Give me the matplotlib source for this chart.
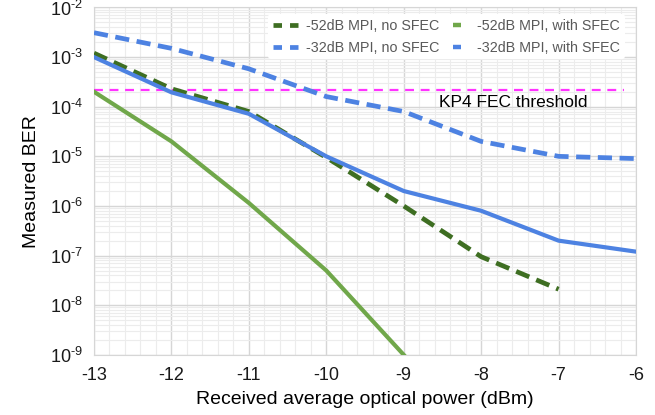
import matplotlib
matplotlib.use("Agg")
import matplotlib.pyplot as plt
from matplotlib.lines import Line2D
from matplotlib.ticker import FixedLocator, LogLocator, FuncFormatter, NullFormatter
import numpy as np

plt.rcParams["font.family"] = ["Liberation Sans", "DejaVu Sans"]
plt.rcParams["mathtext.fontset"] = "custom"
plt.rcParams["mathtext.rm"] = "Liberation Sans"
plt.rcParams["mathtext.it"] = "Liberation Sans:italic"
plt.rcParams["mathtext.bf"] = "Liberation Sans:bold"
plt.rcParams["axes.unicode_minus"] = False

# received power (dBm)
power = [-13, -12, -11, -10, -9, -8, -7, -6]

# measured BER per case
ber_52_no_sfec = [1.2e-3, 2.3e-4, 8e-5, 9.5e-6, 1e-6, 9.5e-8, 2.1e-8]
ber_52_sfec = [2e-4, 2e-5, 1.15e-6, 5e-8, 1e-9]
ber_32_no_sfec = [3.1e-3, 1.5e-3, 5.8e-4, 1.6e-4, 8e-5, 2e-5, 1.0e-5, 9e-6]
ber_32_sfec = [1e-3, 1.95e-4, 7.2e-5, 1e-5, 2e-6, 8e-7, 2e-7, 1.2e-7]

labels = ["-52dB MPI, no SFEC", "-32dB MPI, no SFEC",
          "-52dB MPI, with SFEC", "-32dB MPI, with SFEC"]

kp4_threshold = 2.2e-4
threshold_span = [-13, -6.15]

dark_green = "#3e6e22"
light_green = "#70a74a"
blue = "#4d82e2"

fig = plt.figure(figsize=(6.55, 4.15), dpi=100)
ax = fig.add_axes([0.1435, 0.145, 0.8275, 0.837])

dash = (0, (3.0, 1.6))
ax.plot(power[:len(ber_52_no_sfec)], ber_52_no_sfec, color=dark_green, lw=3.4,
        linestyle=dash, zorder=4)
ax.plot(power[:len(ber_32_no_sfec)], ber_32_no_sfec, color=blue, lw=3.4,
        linestyle=dash, zorder=4)
ax.plot(power[:len(ber_52_sfec)], ber_52_sfec, color=light_green, lw=3.0, zorder=4)
ax.plot(power[:len(ber_32_sfec)], ber_32_sfec, color=blue, lw=3.0, zorder=4)

ax.plot(threshold_span, [kp4_threshold, kp4_threshold], color="#ff33ff", lw=1.6,
        linestyle=(0, (4, 3)), zorder=3)
ax.text(-8.55, 1.2e-4, "KP4 FEC threshold", fontsize=12.5, color="black",
        va="center", ha="left")

ax.set_yscale("log")
ax.set_xlim(-13, -6)
ax.set_ylim(1e-9, 1e-2)


def decade_label(v, pos):
    n = int(round(np.log10(v)))
    return r"$\mathdefault{10^{\text{%d}}}$" % n


ax.xaxis.set_major_locator(FixedLocator(power))
ax.xaxis.set_minor_locator(FixedLocator(np.arange(-13, -6.001, 0.2)))
ax.yaxis.set_major_locator(LogLocator(base=10, numticks=12))
ax.yaxis.set_minor_locator(LogLocator(base=10, subs=np.arange(2, 10), numticks=12))
ax.yaxis.set_major_formatter(FuncFormatter(decade_label))
ax.yaxis.set_minor_formatter(NullFormatter())

ax.grid(which="major", color="#d6d6d6", lw=1.0)
ax.grid(which="minor", color="#ececec", lw=0.8)
ax.set_axisbelow(True)
ax.tick_params(which="both", length=0, labelsize=13, colors="#1a1a1a")
ax.tick_params(axis="x", pad=9)
ax.tick_params(axis="y", pad=8)

for s in ax.spines.values():
    s.set_color("#d6d6d6")

ax.set_xlabel("Received average optical power (dBm)", fontsize=14, labelpad=5)
ax.set_ylabel("Measured BER", fontsize=14, labelpad=7)

# legend proxies: short dashes for the dashed series, small stubs for solid ones
leg_dash = (0, (1.8, 1.7))
handles = [
    Line2D([], [], color=dark_green, lw=3.4, linestyle=leg_dash),
    Line2D([], [], color=blue, lw=3.4, linestyle=leg_dash),
    Line2D([], [], color=light_green, ls="none", marker="_", markersize=5.5,
           markeredgewidth=3.2),
    Line2D([], [], color=blue, ls="none", marker="_", markersize=5.5,
           markeredgewidth=3.2),
]
leg = ax.legend(handles, labels, ncol=2, loc="upper right",
                bbox_to_anchor=(0.979, 0.980), frameon=True, fontsize=10.3,
                handlelength=1.8, columnspacing=0.3, handletextpad=0.55,
                borderpad=0.3, labelspacing=0.55, borderaxespad=0)
leg.get_frame().set_edgecolor("none")
leg.get_frame().set_facecolor("white")
leg.get_frame().set_alpha(1.0)
for t in leg.get_texts():
    t.set_color("#595959")

fig.savefig("out.png", dpi=100)
